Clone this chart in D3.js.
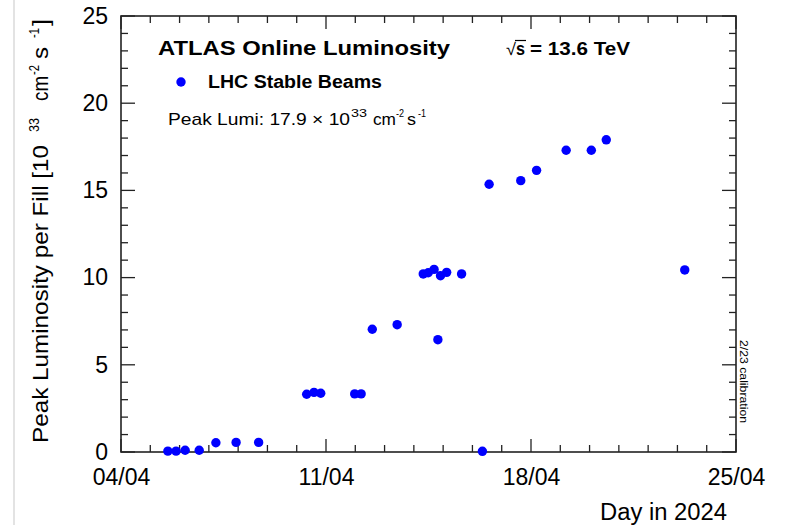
<!DOCTYPE html>
<html>
<head>
<meta charset="utf-8">
<script src="https://cdn.jsdelivr.net/npm/d3@7"></script>
<style>
  body { margin:0; background:#fff; }
  svg { display:block; font-family:"Liberation Sans", Arial, Helvetica, sans-serif; }
</style>
</head>
<body>
<div id="chart-area"></div>
<script>
// fill times (UTC) and peak luminosity
var fillTimes = [
  "2024-04-05T14:24", "2024-04-05T21:07", "2024-04-06T04:34", "2024-04-06T16:05",
  "2024-04-07T05:46", "2024-04-07T22:19", "2024-04-08T16:48",
  "2024-04-10T08:10", "2024-04-10T14:10", "2024-04-10T19:41",
  "2024-04-11T23:31", "2024-04-12T04:48",
  "2024-04-12T13:55", "2024-04-13T10:19",
  "2024-04-14T07:41", "2024-04-14T11:46", "2024-04-14T16:34", "2024-04-14T19:41",
  "2024-04-14T21:50", "2024-04-15T02:53", "2024-04-15T15:07",
  "2024-04-16T08:10", "2024-04-16T13:41", "2024-04-17T15:36", "2024-04-18T04:34",
  "2024-04-19T04:48", "2024-04-20T01:26", "2024-04-20T13:41", "2024-04-23T06:00"
];
var peakLumi = [
  0.05, 0.05, 0.1, 0.1,
  0.53, 0.55, 0.55,
  3.31, 3.42, 3.37,
  3.33, 3.33,
  7.04, 7.30,
  10.21, 10.28, 10.47, 6.44,
  10.11, 10.30, 10.21,
  0.04, 15.35, 15.56, 16.15,
  17.3, 17.3, 17.9, 10.44
];
var xTickLabels = ["04/04", "11/04", "18/04", "25/04"];
var yTicks = [0, 5, 10, 15, 20, 25];

var W = 785, H = 525;
var margin = { top:16, right:49, bottom:73, left:121 };
var width = W - margin.left - margin.right;
var height = H - margin.top - margin.bottom;

var parse = d3.utcParse("%Y-%m-%dT%H:%M");
var data = fillTimes.map(function(t, i){
  return { t: parse(t), v: peakLumi[i] };
});

var svg = d3.select("#chart-area").append("svg")
  .attr("width", W).attr("height", H);

// faint page border on the left
svg.append("line")
  .attr("x1", 14).attr("x2", 14).attr("y1", 0).attr("y2", H)
  .attr("stroke", "#e3e3e3").attr("stroke-width", 2);

var g = svg.append("g")
  .attr("transform", "translate(" + margin.left + "," + margin.top + ")");

var x = d3.scaleUtc()
  .domain([Date.UTC(2024,3,4), Date.UTC(2024,3,25)])
  .range([0, width]);
var y = d3.scaleLinear().domain([0, 25]).range([height, 0]);

var days = d3.utcDay.range(Date.UTC(2024,3,4), Date.UTC(2024,3,25,1));
var weeks = days.filter(function(d, i){ return i % 7 === 0; });
var yMinor = d3.range(0, 26, 1);

var tickCol = "#222";

// ticks on all four sides, pointing inward
var tk = g.append("g").attr("stroke", tickCol).attr("stroke-width", 1.3);
days.forEach(function(d, i){
  var L = i % 7 === 0 ? 13 : 7;
  tk.append("line").attr("x1", x(d)).attr("x2", x(d)).attr("y1", height).attr("y2", height - L);
  tk.append("line").attr("x1", x(d)).attr("x2", x(d)).attr("y1", 0).attr("y2", L);
});
yMinor.forEach(function(v){
  var L = v % 5 === 0 ? 14 : 7;
  tk.append("line").attr("x1", 0).attr("x2", L).attr("y1", y(v)).attr("y2", y(v));
  tk.append("line").attr("x1", width).attr("x2", width - L).attr("y1", y(v)).attr("y2", y(v));
});

// frame
g.append("rect")
  .attr("width", width).attr("height", height)
  .attr("fill", "none").attr("stroke", tickCol).attr("stroke-width", 1.6);

// axes, used for the labels
var xAxis = d3.axisBottom(x).tickValues(weeks).tickSize(0).tickPadding(17)
  .tickFormat(function(d, i){ return xTickLabels[i]; });
var gx = g.append("g").attr("transform", "translate(0," + height + ")").call(xAxis);
gx.select(".domain").remove();
gx.selectAll("text").attr("font-size", "23px").attr("font-family", null).attr("fill", "#000");

var yAxis = d3.axisLeft(y).tickValues(yTicks).tickSize(0).tickPadding(13);
var gy = g.append("g").call(yAxis);
gy.select(".domain").remove();
gy.selectAll("text").attr("font-size", "23px").attr("font-family", null)
  .attr("fill", "#000").attr("dy", "0.32em");

// data points
g.selectAll("circle.pt").data(data).enter().append("circle")
  .attr("class", "pt")
  .attr("cx", function(d){ return x(d.t); })
  .attr("cy", function(d){ return y(d.v); })
  .attr("r", 4.7)
  .attr("fill", "#0000ff");

// text helpers: horizontal piece and piece rotated -90
function htext(px, py, str, size, weight, len) {
  var t = svg.append("text").attr("x", px).attr("y", py)
    .attr("font-size", size + "px").attr("font-weight", weight || "normal").text(str);
  if (len) t.attr("textLength", len).attr("lengthAdjust", "spacingAndGlyphs");
  return t;
}
function vtext(px, py, str, size, len) {
  var t = svg.append("text")
    .attr("transform", "translate(" + px + "," + py + ") rotate(-90)")
    .attr("font-size", size + "px").text(str);
  if (len) t.attr("textLength", len).attr("lengthAdjust", "spacingAndGlyphs");
  return t;
}

// header
htext(158, 55, "ATLAS Online Luminosity", 21, "bold", 292);

htext(506, 55, "\u221A", 17, "normal", 10);
htext(516, 55, "s", 18, "bold", 9);
svg.append("line").attr("x1", 515).attr("x2", 526).attr("y1", 40.5).attr("y2", 40.5)
  .attr("stroke", "#000").attr("stroke-width", 1.2);
htext(530, 55, "= 13.6 TeV", 18, "bold", 100);

svg.append("circle").attr("cx", 181).attr("cy", 82).attr("r", 4.7).attr("fill", "#0000ff");
htext(208, 88, "LHC Stable Beams", 18, "bold", 174);

htext(168, 125, "Peak Lumi: 17.9 \u00D7 10", 17, "normal", 182);
htext(351, 117, "33", 11, "normal", 16);
htext(373, 125, "cm", 17, "normal", 23);
htext(396, 117, "-2", 11, "normal", 8);
htext(407, 125, "s", 17, "normal", 9);
htext(418, 117, "-1", 11, "normal", 8);

// y axis title
vtext(48, 443, "Peak Luminosity per Fill [10", 22, 298);
vtext(39, 132, "33", 14, 14);
vtext(48, 101, "cm", 22, 25);
vtext(39, 75, "-2", 14, 10);
vtext(48, 59, "s", 22, 12);
vtext(39, 38, "-1", 14, 10);
vtext(48, 26, "]", 22, 7);

// x axis title
htext(600, 520, "Day in 2024", 23, "normal", 127);

// calibration note
svg.append("text")
  .attr("transform", "translate(740,340) rotate(90)")
  .attr("font-size", "11.5px")
  .attr("textLength", 83).attr("lengthAdjust", "spacingAndGlyphs")
  .text("2/23 calibration");
</script>
</body>
</html>
